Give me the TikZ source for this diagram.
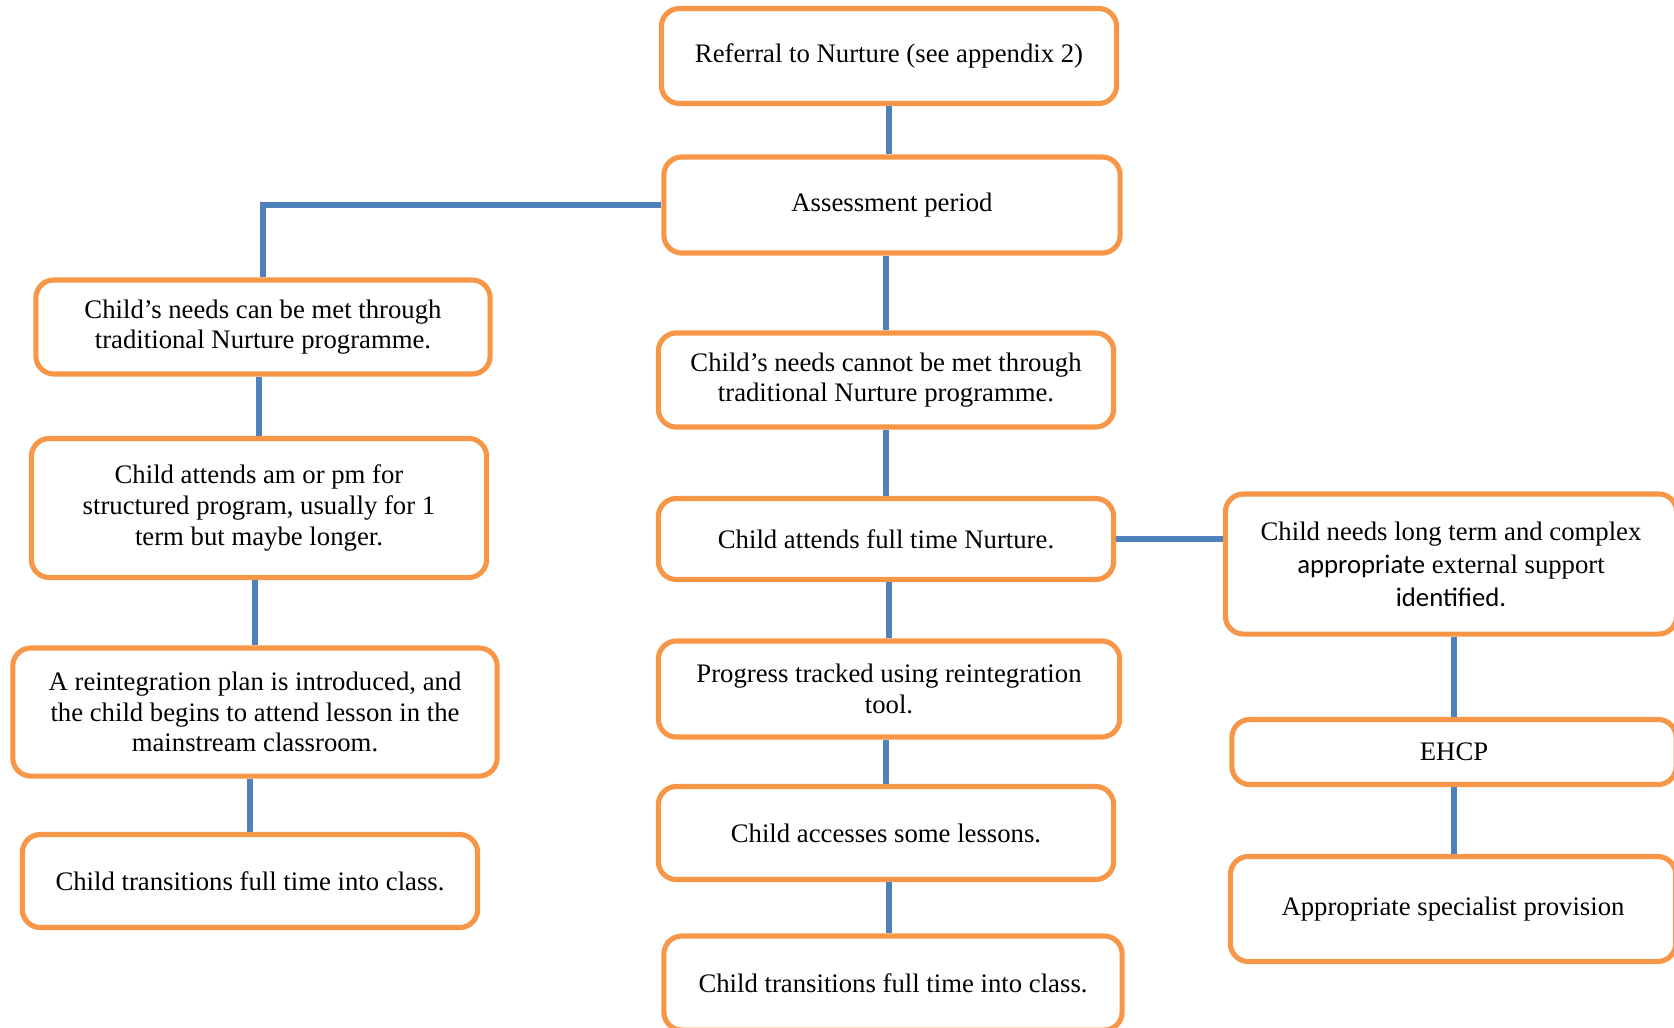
\documentclass[tikz,border=0pt]{standalone}
\usepackage{fontspec}
\setmainfont{Liberation Serif}
\newfontfamily\calibrifont{Carlito}
\usepackage{xcolor}
\definecolor{nurtorange}{HTML}{F79646}
\definecolor{linkblue}{HTML}{4F81BD}
\usepackage{tikz}
\usetikzlibrary{positioning, calc}
\tikzset{
    stage/.style = {rectangle, rounded corners=0.18cm, draw=nurtorange,
                    line width=1.45pt, fill=white, align=center, inner sep=0pt,
                    font=\fontsize{7.6}{8.7}\selectfont},
    link/.style = {draw=linkblue, line width=1.7pt},
}

\begin{document}
\begin{tikzpicture}[x=0.01cm, y=-0.01cm]
        \useasboundingbox (0,0) rectangle (1674,1027);
        \clip (0,0) rectangle (1674,1027);
        % middle column
        \node[stage, minimum width=4.55cm, minimum height=0.95cm] (refer) at (889,56) {Referral to Nurture (see appendix 2)};
        \node[stage, minimum width=4.56cm, minimum height=0.96cm] (assess) at (892,205) {Assessment period};
        \node[stage, minimum width=4.55cm, minimum height=0.94cm] (cannot) at (886,380) {Child’s needs cannot be met through\\traditional Nurture programme.};
        \node[stage, minimum width=4.55cm, minimum height=0.81cm] (fulltime) at (886,539) {Child attends full time Nurture.};
        \node[stage, minimum width=4.61cm, minimum height=0.96cm] (progress) at (889,689) {Progress tracked using reintegration\\tool.};
        \node[stage, minimum width=4.55cm, minimum height=0.93cm] (lessons) at (886,833) {Child accesses some lessons.};
        \node[stage, minimum width=4.58cm, minimum height=0.94cm] (classM) at (893,983) {Child transitions full time into class.};
        % left column
        \node[stage, minimum width=4.54cm, minimum height=0.94cm] (canmeet) at (263,327) {Child’s needs can be met through\\traditional Nurture programme.};
        \node[stage, minimum width=4.55cm, minimum height=1.39cm] (ampm) at (259,508) {Child attends am or pm for\\structured program, usually for 1\\term but maybe longer.};
        \node[stage, minimum width=4.84cm, minimum height=1.28cm] (reint) at (255,712) {A reintegration plan is introduced, and\\the child begins to attend lesson in the\\mainstream classroom.};
        \node[stage, minimum width=4.55cm, minimum height=0.93cm] (classL) at (250,881) {Child transitions full time into class.};
        % right column
        \node[stage, minimum width=4.51cm, minimum height=1.40cm, font=\fontsize{7.6}{9.4}\selectfont] (complex) at (1451,564) {Child needs long term and complex\\{\calibrifont appropriate} external support\\{\calibrifont identified.}};
        \node[stage, minimum width=4.44cm, minimum height=0.65cm] (ehcp) at (1454,752) {EHCP};
        \node[stage, minimum width=4.45cm, minimum height=1.05cm] (special) at (1453,909) {Appropriate specialist provision};
        % connectors
        \draw[link] (refer.south) -- (refer.south |- assess.north);
        \draw[link] (assess.west) -| (canmeet.north);
        \draw[link] (cannot.north |- assess.south) -- (cannot.north);
        \draw[link] (ampm.north |- canmeet.south) -- (ampm.north);
        \draw[link] (reint.north |- ampm.south) -- (reint.north);
        \draw[link] (classL.north |- reint.south) -- (classL.north);
        \draw[link] (cannot.south) -- (fulltime.north);
        \draw[link] (progress.north |- fulltime.south) -- (progress.north);
        \draw[link] (lessons.north |- progress.south) -- (lessons.north);
        \draw[link] ($(lessons.south)+(3,0)$) -- ($(lessons.south |- classM.north)+(3,0)$);
        \draw[link] (fulltime.east) -- (fulltime.east -| complex.west);
        \draw[link] (ehcp.north |- complex.south) -- (ehcp.north);
        \draw[link] (ehcp.south) -- (ehcp.south |- special.north);
      \end{tikzpicture}
\end{document}
